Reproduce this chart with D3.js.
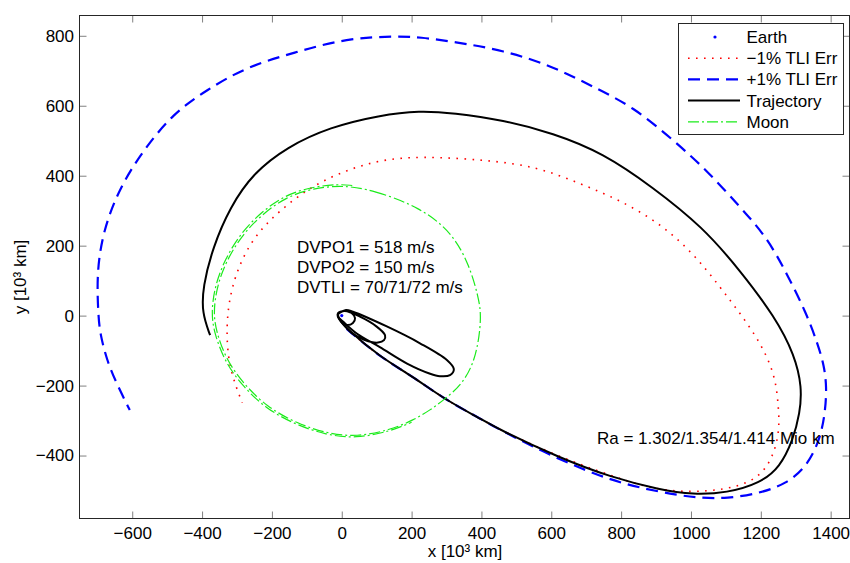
<!DOCTYPE html>
<html>
<head>
<meta charset="utf-8">
<script src="https://cdn.jsdelivr.net/npm/d3@7"></script>
<style>
  html, body { margin: 0; padding: 0; background: #fff; }
  svg { display: block; font-family: "Liberation Sans", Arial, Helvetica, sans-serif; }
</style>
</head>
<body>
<svg id="chart" width="850" height="563"></svg>
<script>
// Axis ticks (10^3 km)
const xTicks = [-600, -400, -200, 0, 200, 400, 600, 800, 1000, 1200, 1400];
const yTicks = [-400, -200, 0, 200, 400, 600, 800];
const xTickLabels = ["\u2212600", "\u2212400", "\u2212200", "0", "200", "400", "600", "800", "1000", "1200", "1400"];
const yTickLabels = ["\u2212400", "\u2212200", "0", "200", "400", "600", "800"];

// Earth position
const earth = [[0, 0]];

// Nominal trajectory, part 1: three phasing loops around the Earth
const phasingLoops = [
  [-11, 8], [-11, -2], [-2, -16], [15, -27], [32, -21], [38, -7], [29, 7], [9, 14],
  [-11, 5], [-11, -4], [1, -21], [29, -50], [66, -70], [104, -77], [121, -70], [124, -56], [98, -30], [52, -3], [9, 13],
  [-11, 6], [-11, -2], [6, -19], [44, -52], [109, -90], [187, -137], [253, -166], [281, -173], [310, -170],
  [321, -153], [301, -127], [224, -79], [129, -31], [32, 11], [12, 16], [-11, 4]
];

// Nominal trajectory, part 2: translunar leg
const translunarLeg = [
  [-11, 4], [-10, -8], [14, -38], [109, -118], [205, -175], [291, -237], [396, -294], [453, -327],
  [625, -407], [768, -461], [911, -498], [1006, -512], [1103, -507], [1198, -479], [1255, -433],
  [1292, -356], [1312, -279], [1318, -205], [1297, -113], [1241, -4], [1140, 130], [1034, 253],
  [891, 367], [748, 465], [605, 522], [462, 559], [319, 579], [224, 586], [109, 573], [-34, 539],
  [-157, 482], [-254, 407], [-320, 310], [-369, 196], [-398, 82], [-400, 7], [-377, -56]
];

// -1% TLI error dispersion
const tliMinus = [
  [14, -38], [109, -118], [205, -175], [291, -237], [396, -294], [453, -327], [625, -405], [768, -456],
  [862, -488], [959, -504], [1054, -502], [1131, -490], [1198, -461], [1235, -404], [1255, -327],
  [1249, -242], [1240, -170], [1203, -84], [1145, 1], [1083, 82], [1007, 178], [911, 264], [797, 330],
  [682, 378], [558, 426], [415, 445], [224, 456], [109, 445], [14, 416], [-82, 373], [-177, 302],
  [-253, 225], [-301, 130], [-325, 35], [-330, -51], [-325, -118], [-315, -165], [-301, -208], [-285, -249]
];

// +1% TLI error dispersion
const tliPlus = [
  [14, -38], [109, -118], [205, -175], [291, -237], [396, -294], [453, -327], [625, -413], [768, -470],
  [863, -494], [959, -513], [1026, -521], [1102, -523], [1198, -508], [1274, -480], [1331, -432],
  [1369, -356], [1384, -280], [1389, -204], [1381, -142], [1364, -84], [1331, 6], [1274, 121],
  [1217, 225], [1140, 311], [1045, 416], [949, 502], [835, 597], [720, 654], [606, 712], [463, 759],
  [319, 783], [224, 796], [157, 799], [14, 793], [-129, 754], [-272, 712], [-387, 645], [-483, 578],
  [-568, 473], [-635, 368], [-683, 245], [-702, 121], [-697, -3], [-692, -51], [-673, -127],
  [-645, -194], [-607, -270]
];

// Moon orbit, first lap (closed)
const moonLap1 = [
  [4, 373], [90, 359], [224, 310], [318, 236], [367, 140], [391, 54], [401, -3], [386, -118],
  [348, -194], [291, -242], [253, -270], [205, -299], [138, -327], [43, -347], [-43, -337],
  [-129, -308], [-215, -261], [-282, -194], [-330, -127], [-358, -51], [-368, 6], [-358, 82],
  [-330, 159], [-282, 235], [-225, 292], [-158, 340], [-82, 364]
];

// Moon orbit, second (partial) lap
const moonLap2 = [
  [30, 372], [-10, 376], [-85, 368], [-162, 345], [-229, 297], [-287, 239], [-335, 161], [-364, 83],
  [-374, 5], [-364, -53], [-335, -131], [-287, -198], [-219, -265], [-132, -312], [-45, -341],
  [40, -351], [135, -332], [200, -305]
];

const legendItems = ["Earth", "\u22121% TLI Err", "+1% TLI Err", "Trajectory", "Moon"];
const dvLines = ["DVPO1 = 518 m/s", "DVPO2 = 150 m/s", "DVTLI = 70/71/72 m/s"];
const raText = "Ra = 1.302/1.354/1.414 Mio km";

const svg = d3.select("#chart");
const W = 850, H = 563;
const L = 79.5, R = 849.5, T = 15.5, B = 518.5;

const x = d3.scaleLinear().domain([-751, 1454]).range([L, R]);
const y = d3.scaleLinear().domain([-580, 858]).range([B, T]);

svg.append("rect").attr("width", W).attr("height", H).attr("fill", "#fff");

const smooth = d3.line().x(d => x(d[0])).y(d => y(d[1])).curve(d3.curveBasis);
const smoothClosed = d3.line().x(d => x(d[0])).y(d => y(d[1])).curve(d3.curveBasisClosed);
const tight = d3.line().x(d => x(d[0])).y(d => y(d[1])).curve(d3.curveCatmullRom.alpha(0.5));

const moonColor = "#1aeb1a";
const plot = svg.append("g");

// -1% dispersion (dotted red)
plot.append("path").datum(tliMinus).attr("d", smooth)
  .attr("fill", "none").attr("stroke", "#ff0000").attr("stroke-width", 1.6)
  .attr("stroke-dasharray", "1.6,6.4");

// +1% dispersion (dashed blue)
plot.append("path").datum(tliPlus).attr("d", smooth)
  .attr("fill", "none").attr("stroke", "#0000ff").attr("stroke-width", 2.2)
  .attr("stroke-dasharray", "12,7");

// nominal trajectory
plot.append("path").datum(phasingLoops).attr("d", tight)
  .attr("fill", "none").attr("stroke", "#000").attr("stroke-width", 2)
  .attr("stroke-linejoin", "round");
plot.append("path").datum(translunarLeg).attr("d", smooth)
  .attr("fill", "none").attr("stroke", "#000").attr("stroke-width", 2)
  .attr("stroke-linejoin", "round");

// Moon orbit (dash-dot green)
plot.append("path").datum(moonLap1).attr("d", smoothClosed)
  .attr("fill", "none").attr("stroke", moonColor).attr("stroke-width", 1.2)
  .attr("stroke-dasharray", "11,3,2,3");
plot.append("path").datum(moonLap2).attr("d", smooth)
  .attr("fill", "none").attr("stroke", moonColor).attr("stroke-width", 1.2)
  .attr("stroke-dasharray", "11,3,2,3");

// Earth
plot.selectAll("circle.earth").data(earth).enter().append("circle")
  .attr("class", "earth").attr("cx", d => x(d[0])).attr("cy", d => y(d[1]))
  .attr("r", 1.6).attr("fill", "#0000ff");

// Axes
const fontSize = 17;
function styleAxis(g) {
  g.select(".domain").remove();
  g.selectAll(".tick line").attr("stroke", "#808080").attr("stroke-width", 1);
  g.selectAll(".tick text").attr("fill", "#000").style("font-size", fontSize + "px")
    .style("font-family", "\"Liberation Sans\", Arial, Helvetica, sans-serif");
}
const xLabelOf = v => xTickLabels[xTicks.indexOf(v)];
const yLabelOf = v => yTickLabels[yTicks.indexOf(v)];

svg.append("g").attr("transform", `translate(0,${B})`)
  .call(d3.axisBottom(x).tickValues(xTicks).tickFormat(xLabelOf).tickSizeInner(-7).tickSizeOuter(0).tickPadding(8))
  .call(styleAxis);
svg.append("g").attr("transform", `translate(0,${T})`)
  .call(d3.axisTop(x).tickValues(xTicks).tickSizeInner(-7).tickSizeOuter(0).tickFormat(""))
  .call(styleAxis);
svg.append("g").attr("transform", `translate(${L},0)`)
  .call(d3.axisLeft(y).tickValues(yTicks).tickFormat(yLabelOf).tickSizeInner(-7).tickSizeOuter(0).tickPadding(5.5))
  .call(styleAxis);
svg.append("g").attr("transform", `translate(${R},0)`)
  .call(d3.axisRight(y).tickValues(yTicks).tickSizeInner(-7).tickSizeOuter(0).tickFormat(""))
  .call(styleAxis);

// Axes box
svg.append("rect").attr("x", L).attr("y", T).attr("width", R - L).attr("height", B - T)
  .attr("fill", "none").attr("stroke", "#262626").attr("stroke-width", 1);

// Axis titles
svg.append("text").attr("x", 465).attr("y", 557).attr("text-anchor", "middle")
  .style("font-size", fontSize + "px").attr("fill", "#000").text("x [10\u00b3 km]");
svg.append("text").attr("transform", "translate(26,277) rotate(-90)").attr("text-anchor", "middle")
  .style("font-size", fontSize + "px").attr("fill", "#000").text("y [10\u00b3 km]");

// Annotations
svg.append("g").selectAll("text").data(dvLines).enter().append("text")
  .attr("x", 297).attr("y", (d, i) => 252.5 + i * 20.4)
  .style("font-size", fontSize + "px").attr("fill", "#000").text(d => d);
svg.append("text").attr("x", 597).attr("y", 444)
  .style("font-size", fontSize + "px").attr("fill", "#000").text(raText);

// Legend
const lg = svg.append("g");
lg.append("rect").attr("x", 678.5).attr("y", 23.5).attr("width", 165).attr("height", 111)
  .attr("fill", "#fff").attr("stroke", "#262626").attr("stroke-width", 1);
const rowY = i => 37 + i * 21.2;
const styles = [
  null,
  { stroke: "#ff0000", w: 1.6, dash: "1.6,6.4" },
  { stroke: "#0000ff", w: 2.2, dash: "12,7" },
  { stroke: "#000", w: 2, dash: null },
  { stroke: moonColor, w: 1.2, dash: "11,3,2,3" }
];
legendItems.forEach((name, i) => {
  const s = styles[i];
  if (s) {
    lg.append("line").attr("x1", 688).attr("x2", 740).attr("y1", rowY(i)).attr("y2", rowY(i))
      .attr("stroke", s.stroke).attr("stroke-width", s.w)
      .attr("stroke-dasharray", s.dash);
  } else {
    lg.append("circle").attr("cx", 715).attr("cy", rowY(i)).attr("r", 1.6).attr("fill", "#0000ff");
  }
  lg.append("text").attr("x", 746.5).attr("y", rowY(i)).attr("dy", "0.35em")
    .style("font-size", fontSize + "px").attr("fill", "#000").text(name);
});
</script>
</body>
</html>
